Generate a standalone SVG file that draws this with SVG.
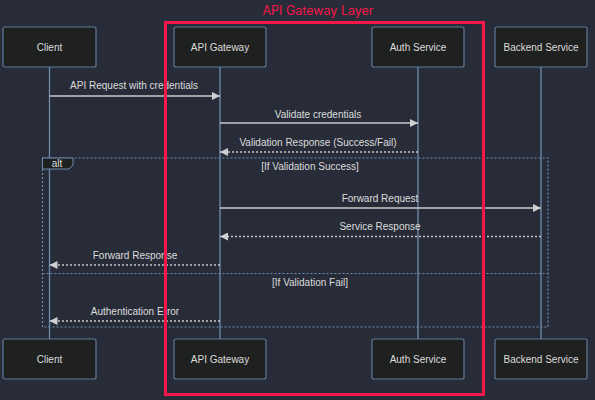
<svg xmlns="http://www.w3.org/2000/svg" width="595" height="400" viewBox="0 0 595 400">
<defs>
<style>
.bg{fill:#282c38}
.actor rect{fill:#1f2020;stroke:#5d7a99;stroke-width:1.2}
.t{font-family:"Liberation Sans",Arial,sans-serif;font-size:10px;fill:#dcdcdc;text-anchor:middle;dominant-baseline:central}
.life{stroke:#6d8db0;stroke-width:1.3}
.msg{stroke:#c8c8c8;stroke-width:1.3;fill:none}
.dash{stroke-dasharray:2,2}
.frame{fill:none;stroke:#6d8db0;stroke-width:1.2;stroke-dasharray:2,2}
</style>
<marker id="ah" viewBox="0 0 10 10" refX="10" refY="5" markerWidth="8" markerHeight="8" markerUnits="userSpaceOnUse" orient="auto">
<path d="M0,0 L10,5 L0,10 z" fill="#d0d0d0"/>
</marker>
</defs>
<rect class="bg" x="0" y="0" width="595" height="400"/>

<g id="lifelines">
<line class="life" x1="49.5" y1="67" x2="49.5" y2="339"/>
<line class="life" x1="220" y1="67" x2="220" y2="339"/>
<line class="life" x1="418" y1="67" x2="418" y2="339"/>
<line class="life" x1="541" y1="67" x2="541" y2="339"/>
</g>

<g id="actor-client-top" class="actor"><rect x="3" y="27" width="93" height="40" rx="2"/><text class="t" x="49.5" y="47">Client</text></g>
<g id="actor-gateway-top" class="actor"><rect x="174" y="27" width="92" height="40" rx="2"/><text class="t" x="220" y="47">API Gateway</text></g>
<g id="actor-auth-top" class="actor"><rect x="372" y="27" width="92" height="40" rx="2"/><text class="t" x="418" y="47">Auth Service</text></g>
<g id="actor-backend-top" class="actor"><rect x="495" y="27" width="92" height="40" rx="2"/><text class="t" x="541" y="47">Backend Service</text></g>

<g id="actor-client-bottom" class="actor"><rect x="3" y="339" width="93" height="40" rx="2"/><text class="t" x="49.5" y="359">Client</text></g>
<g id="actor-gateway-bottom" class="actor"><rect x="174" y="339" width="92" height="40" rx="2"/><text class="t" x="220" y="359">API Gateway</text></g>
<g id="actor-auth-bottom" class="actor"><rect x="372" y="339" width="92" height="40" rx="2"/><text class="t" x="418" y="359">Auth Service</text></g>
<g id="actor-backend-bottom" class="actor"><rect x="495" y="339" width="92" height="40" rx="2"/><text class="t" x="541" y="359">Backend Service</text></g>

<g id="alt-frame">
<rect class="frame" x="42.5" y="158" width="505.5" height="169"/>
<line class="frame" x1="42.5" y1="273.5" x2="548" y2="273.5"/>
<path d="M42.5,158 H73 V165 L69,169 H42.5 Z" fill="#1f2020" stroke="#6d8db0" stroke-width="1"/>
<text class="t" x="57" y="163.5">alt</text>
<text class="t" x="310" y="166">[If Validation Success]</text>
<text class="t" x="310" y="282">[If Validation Fail]</text>
</g>

<g id="connectors">
<line class="msg" x1="49.5" y1="96" x2="220" y2="96" marker-end="url(#ah)"/>
<text class="t" x="134" y="85">API Request with credentials</text>
<line class="msg" x1="220" y1="123" x2="418" y2="123" marker-end="url(#ah)"/>
<text class="t" x="318" y="114">Validate credentials</text>
<line class="msg dash" x1="418" y1="152" x2="220" y2="152" marker-end="url(#ah)"/>
<text class="t" x="318" y="142">Validation Response (Success/Fail)</text>
<line class="msg" x1="220" y1="208" x2="541" y2="208" marker-end="url(#ah)"/>
<text class="t" x="380" y="198">Forward Request</text>
<line class="msg dash" x1="541" y1="236.5" x2="220" y2="236.5" marker-end="url(#ah)"/>
<text class="t" x="380" y="226">Service Response</text>
<line class="msg dash" x1="220" y1="265" x2="49.5" y2="265" marker-end="url(#ah)"/>
<text class="t" x="135" y="255">Forward Response</text>
<line class="msg dash" x1="220" y1="321" x2="49.5" y2="321" marker-end="url(#ah)"/>
<text class="t" x="135" y="311">Authentication Error</text>
</g>

<g id="gateway-layer">
<rect x="165.5" y="22.5" width="318" height="372" fill="none" stroke="#f5164a" stroke-width="3"/>
<text x="318" y="10" font-family="Inter,'DejaVu Sans',sans-serif" font-size="12.5" fill="#f5164a" text-anchor="middle" dominant-baseline="central">API Gateway Layer</text>
</g>
</svg>
